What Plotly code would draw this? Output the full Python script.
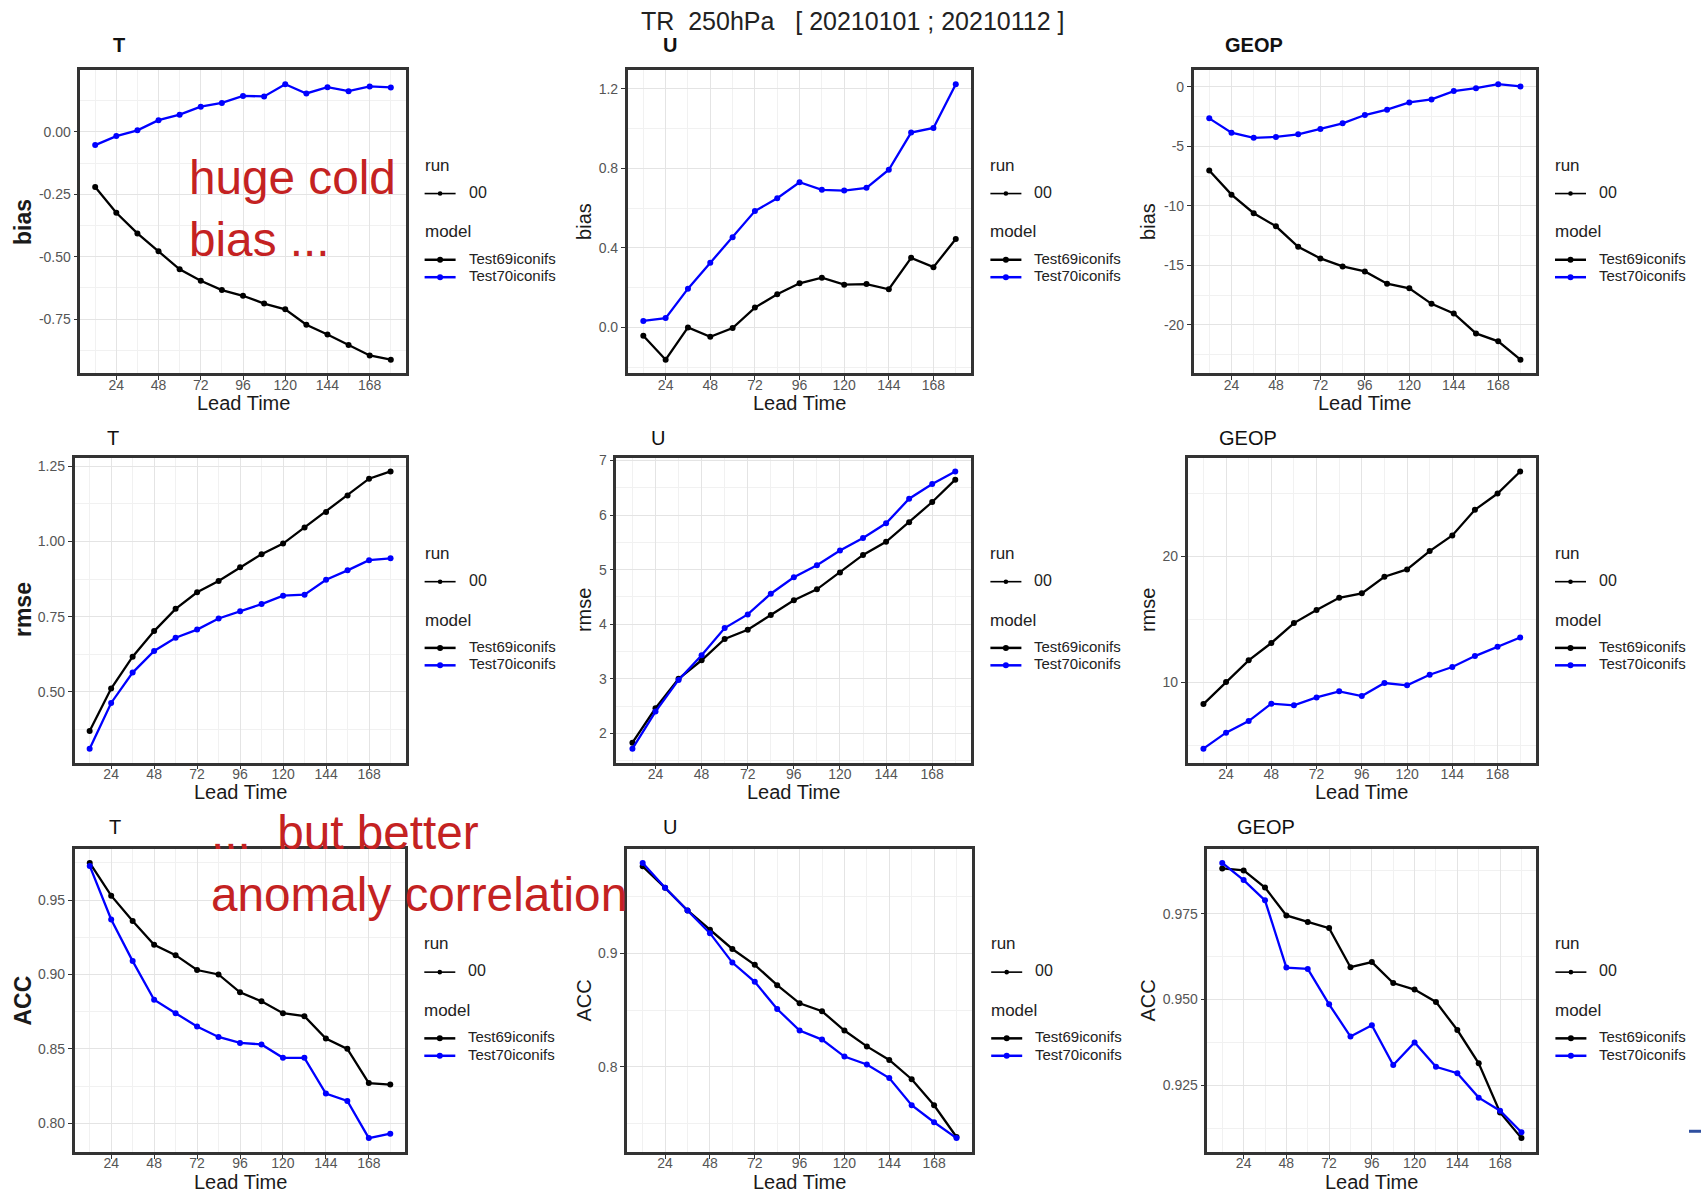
import plotly.graph_objects as go

W, H = 1701, 1195
FONT = "Liberation Sans, Arial, Helvetica, sans-serif"

# ---------------- data ----------------
lead_time = [12, 24, 36, 48, 60, 72, 84, 96, 108, 120, 132, 144, 156, 168, 180]
x_tick_vals = [24, 48, 72, 96, 120, 144, 168]
x_tick_text = ["24", "48", "72", "96", "120", "144", "168"]

models = ["Test69iconifs", "Test70iconifs"]
runs = ["00"]
variables = ["T", "U", "GEOP"]
scores = ["bias", "rmse", "ACC"]

t_bias_test69 = [-0.221, -0.324, -0.407, -0.478, -0.551, -0.597, -0.634, -0.657, -0.688, -0.711, -0.773, -0.812, -0.854, -0.896, -0.913]
t_bias_test70 = [-0.053, -0.017, 0.006, 0.047, 0.069, 0.101, 0.116, 0.144, 0.142, 0.191, 0.154, 0.179, 0.163, 0.182, 0.178]
u_bias_test69 = [-0.042, -0.162, 0.000, -0.047, -0.003, 0.100, 0.167, 0.222, 0.250, 0.215, 0.218, 0.192, 0.350, 0.303, 0.445]
u_bias_test70 = [0.033, 0.047, 0.195, 0.325, 0.453, 0.585, 0.650, 0.730, 0.692, 0.688, 0.702, 0.793, 0.980, 1.003, 1.223]
geop_bias_test69 = [-7.03, -9.06, -10.62, -11.72, -13.44, -14.42, -15.09, -15.51, -16.54, -16.93, -18.24, -19.05, -20.72, -21.39, -22.93]
geop_bias_test70 = [-2.65, -3.85, -4.29, -4.21, -3.99, -3.54, -3.07, -2.37, -1.92, -1.31, -1.06, -0.36, -0.11, 0.22, 0.03]

t_rmse_test69 = [0.370, 0.511, 0.617, 0.702, 0.776, 0.831, 0.869, 0.914, 0.958, 0.993, 1.047, 1.098, 1.153, 1.209, 1.233]
t_rmse_test70 = [0.311, 0.463, 0.564, 0.636, 0.680, 0.707, 0.744, 0.768, 0.792, 0.820, 0.823, 0.873, 0.904, 0.938, 0.944]
u_rmse_test69 = [1.83, 2.46, 3.00, 3.34, 3.73, 3.90, 4.17, 4.44, 4.64, 4.95, 5.27, 5.51, 5.87, 6.24, 6.65]
u_rmse_test70 = [1.72, 2.40, 2.98, 3.43, 3.93, 4.18, 4.56, 4.86, 5.08, 5.35, 5.58, 5.85, 6.30, 6.57, 6.80]
geop_rmse_test69 = [8.25, 10.00, 11.72, 13.10, 14.68, 15.71, 16.69, 17.04, 18.36, 18.94, 20.40, 21.64, 23.68, 24.97, 26.72]
geop_rmse_test70 = [4.71, 5.98, 6.90, 8.28, 8.15, 8.78, 9.26, 8.89, 9.92, 9.74, 10.58, 11.19, 12.06, 12.80, 13.54]

t_acc_test69 = [0.975, 0.953, 0.936, 0.920, 0.913, 0.903, 0.900, 0.888, 0.882, 0.874, 0.872, 0.857, 0.850, 0.827, 0.826]
t_acc_test70 = [0.973, 0.937, 0.909, 0.883, 0.874, 0.865, 0.858, 0.854, 0.853, 0.844, 0.844, 0.820, 0.815, 0.790, 0.793]
u_acc_test69 = [0.977, 0.958, 0.938, 0.921, 0.904, 0.890, 0.872, 0.856, 0.849, 0.832, 0.818, 0.806, 0.789, 0.766, 0.738]
u_acc_test70 = [0.980, 0.958, 0.938, 0.918, 0.892, 0.875, 0.851, 0.832, 0.824, 0.809, 0.802, 0.790, 0.766, 0.751, 0.737]
geop_acc_test69 = [0.9882, 0.9876, 0.9826, 0.9745, 0.9726, 0.9708, 0.9594, 0.9609, 0.9548, 0.9529, 0.9493, 0.9411, 0.9314, 0.9171, 0.9096]
geop_acc_test70 = [0.9898, 0.9848, 0.9789, 0.9593, 0.9589, 0.9486, 0.9392, 0.9425, 0.9309, 0.9375, 0.9304, 0.9285, 0.9214, 0.9176, 0.9113]

t_bias_ticks = [-0.75, -0.50, -0.25, 0.00]
t_bias_labels = ["-0.75", "-0.50", "-0.25", "0.00"]
u_bias_ticks = [0.0, 0.4, 0.8, 1.2]
u_bias_labels = ["0.0", "0.4", "0.8", "1.2"]
geop_bias_ticks = [-20, -15, -10, -5, 0]
geop_bias_labels = ["-20", "-15", "-10", "-5", "0"]
t_rmse_ticks = [0.50, 0.75, 1.00, 1.25]
t_rmse_labels = ["0.50", "0.75", "1.00", "1.25"]
u_rmse_ticks = [2, 3, 4, 5, 6, 7]
u_rmse_labels = ["2", "3", "4", "5", "6", "7"]
geop_rmse_ticks = [10, 20]
geop_rmse_labels = ["10", "20"]
t_acc_ticks = [0.80, 0.85, 0.90, 0.95]
t_acc_labels = ["0.80", "0.85", "0.90", "0.95"]
u_acc_ticks = [0.8, 0.9]
u_acc_labels = ["0.8", "0.9"]
geop_acc_ticks = [0.925, 0.950, 0.975]
geop_acc_labels = ["0.925", "0.950", "0.975"]

main_title = "TR\u00a0\u00a0250hPa\u00a0\u00a0\u00a0[\u00a020210101\u00a0;\u00a020210112\u00a0]"
note_top = "huge cold<br>bias ..."
note_bottom = "...\u00a0\u00a0but better<br>anomaly correlation"

series = [
    [(t_bias_test69, t_bias_test70, t_bias_ticks, t_bias_labels),
     (u_bias_test69, u_bias_test70, u_bias_ticks, u_bias_labels),
     (geop_bias_test69, geop_bias_test70, geop_bias_ticks, geop_bias_labels)],
    [(t_rmse_test69, t_rmse_test70, t_rmse_ticks, t_rmse_labels),
     (u_rmse_test69, u_rmse_test70, u_rmse_ticks, u_rmse_labels),
     (geop_rmse_test69, geop_rmse_test70, geop_rmse_ticks, geop_rmse_labels)],
    [(t_acc_test69, t_acc_test70, t_acc_ticks, t_acc_labels),
     (u_acc_test69, u_acc_test70, u_acc_ticks, u_acc_labels),
     (geop_acc_test69, geop_acc_test70, geop_acc_ticks, geop_acc_labels)],
]

# ---------------- layout geometry (pixels) ----------------
box_x = [
    [(80.4, 405.6), (627.7, 971.4), (1193.7, 1536.0)],
    [(74.6, 405.6), (616.3, 971.4), (1187.6, 1536.0)],
    [(74.7, 405.3), (627.0, 972.2), (1207.3, 1536.4)],
]
box_y = [(65.7, 370.0), (454.5, 760.7), (847.7, 1151.7)]
title_x = [[111, 661, 1223], [105, 649, 1217], [107, 661, 1235]]
title_y = [40, 435, 825]
ytitle_x = [21, 584, 1148]

model_colors = ["#000000", "#0000ff"]


def px(x):
    return x / W


def py(y):
    return 1 - y / H


def expand(lo, hi, frac=0.05):
    pad = (hi - lo) * frac
    return [lo - pad, hi + pad]


def minors(ticks, rng):
    step = ticks[1] - ticks[0]
    cand = [ticks[0] - step / 2 + k * step for k in range(len(ticks) + 1)]
    return [c for c in cand if rng[0] <= c <= rng[1]]


fig = go.Figure()
layout = dict(
    width=W, height=H, margin=dict(l=0, r=0, t=0, b=0),
    paper_bgcolor="white", plot_bgcolor="white",
    font=dict(family=FONT), showlegend=False,
)
annotations = []
shapes = []

x_range = expand(min(lead_time), max(lead_time))
x_minor = minors(x_tick_vals, x_range)

k = 0
for r in range(3):
    for c in range(3):
        k += 1
        d69, d70, yt, yl = series[r][c]
        sfx = "" if k == 1 else str(k)
        xname, yname = "x" + sfx, "y" + sfx
        (x0, x1), (y0, y1) = box_x[r][c], box_y[r]
        y_range = expand(min(d69 + d70), max(d69 + d70))

        for m, vals in enumerate([d69, d70]):
            fig.add_trace(go.Scatter(
                x=lead_time, y=vals, mode="lines+markers", name=models[m],
                line=dict(color=model_colors[m], width=2.3),
                marker=dict(color=model_colors[m], size=6),
                xaxis=xname, yaxis=yname, showlegend=False,
            ))

        common = dict(
            showline=True, linecolor="#333333", linewidth=2.5, mirror=True,
            ticks="outside", ticklen=4, tickwidth=1, tickcolor="#333333",
            tickfont=dict(size=14, color="#555555", family=FONT),
            showgrid=True, gridcolor="#e4e4e4", gridwidth=1.3, zeroline=False,
            tickmode="array",
        )
        layout["xaxis" + sfx] = dict(
            common, domain=[px(x0), px(x1)], anchor=yname, range=x_range,
            tickvals=x_tick_vals, ticktext=x_tick_text, ticklabelstandoff=-7,
            minor=dict(tickmode="array", tickvals=x_minor, showgrid=True,
                       gridcolor="#f1f1f1", gridwidth=1, ticks=""),
        )
        layout["yaxis" + sfx] = dict(
            common, domain=[py(y1), py(y0)], anchor=xname, range=y_range,
            tickvals=yt, ticktext=yl,
            minor=dict(tickmode="array", tickvals=minors(yt, y_range), showgrid=True,
                       gridcolor="#f1f1f1", gridwidth=1, ticks=""),
        )

        # panel title
        t = variables[c]
        annotations.append(dict(
            text=("<b>%s</b>" % t) if r == 0 else t, x=px(title_x[r][c]), y=py(title_y[r]),
            xref="paper", yref="paper", xanchor="left", yanchor="middle",
            showarrow=False, font=dict(size=20, color="#111111", family=FONT)))
        # x title
        annotations.append(dict(
            text="Lead Time", x=px((x0 + x1) / 2), y=py(y1 + 30),
            xref="paper", yref="paper", xanchor="center", yanchor="middle",
            showarrow=False, font=dict(size=20, color="#1a1a1a", family=FONT)))
        # y title
        s = scores[r]
        annotations.append(dict(
            text=("<b>%s</b>" % s) if c == 0 else s,
            x=px(ytitle_x[c] + (2 if c == 0 else 0)), y=py((y0 + y1) / 2),
            xref="paper", yref="paper", xanchor="center", yanchor="middle",
            textangle=-90, showarrow=False,
            font=dict(size=23 if c == 0 else 20, color="#1a1a1a", family=FONT)))

        # legend
        cy = (y0 + y1) / 2
        lx = x1 + 17
        annotations.append(dict(text="run", x=px(lx), y=py(cy - 57), xref="paper", yref="paper",
                                xanchor="left", yanchor="middle", showarrow=False,
                                font=dict(size=17, color="#222222", family=FONT)))
        annotations.append(dict(text="model", x=px(lx), y=py(cy + 10), xref="paper", yref="paper",
                                xanchor="left", yanchor="middle", showarrow=False,
                                font=dict(size=17, color="#222222", family=FONT)))
        entries = [(runs[0], cy - 28.5, "#000000", 1.6, 2.3),
                   (models[0], cy + 38, model_colors[0], 2.5, 3.0),
                   (models[1], cy + 55.5, model_colors[1], 2.5, 3.0)]
        for label, ey, col, lw, rad in entries:
            shapes.append(dict(type="line", xref="paper", yref="paper",
                               x0=px(x1 + 19), x1=px(x1 + 50), y0=py(ey), y1=py(ey),
                               line=dict(color=col, width=lw)))
            mx = x1 + 34.5
            shapes.append(dict(type="circle", xref="paper", yref="paper",
                               x0=px(mx - rad), x1=px(mx + rad), y0=py(ey + rad), y1=py(ey - rad),
                               fillcolor=col, line=dict(color=col, width=0)))
            annotations.append(dict(text=label, x=px(x1 + 61), y=py(ey - 1.5), xref="paper", yref="paper",
                                    xanchor="left", yanchor="middle", showarrow=False,
                                    font=dict(size=15 if label != runs[0] else 16, color="#222222", family=FONT)))

# main title
annotations.append(dict(text=main_title, x=px(853), y=py(16), xref="paper", yref="paper",
                        xanchor="center", yanchor="middle", showarrow=False,
                        font=dict(size=25, color="#222222", family=FONT)))
# red notes
annotations.append(dict(text=note_top, x=px(187), y=py(204), xref="paper", yref="paper",
                        xanchor="left", yanchor="middle", align="left", showarrow=False,
                        font=dict(size=47.7, color="#c42222", family=FONT)))
annotations.append(dict(text=note_bottom, x=px(209), y=py(862), xref="paper", yref="paper",
                        xanchor="left", yanchor="middle", align="left", showarrow=False,
                        font=dict(size=47.7, color="#c42222", family=FONT)))
# stray slide mark at right edge
shapes.append(dict(type="line", xref="paper", yref="paper", x0=px(1689), x1=px(1701),
                   y0=py(1131), y1=py(1131), line=dict(color="#2f4f9f", width=3)))

layout["annotations"] = annotations
layout["shapes"] = shapes
fig.update_layout(**layout)
fig.write_html("out.html")
